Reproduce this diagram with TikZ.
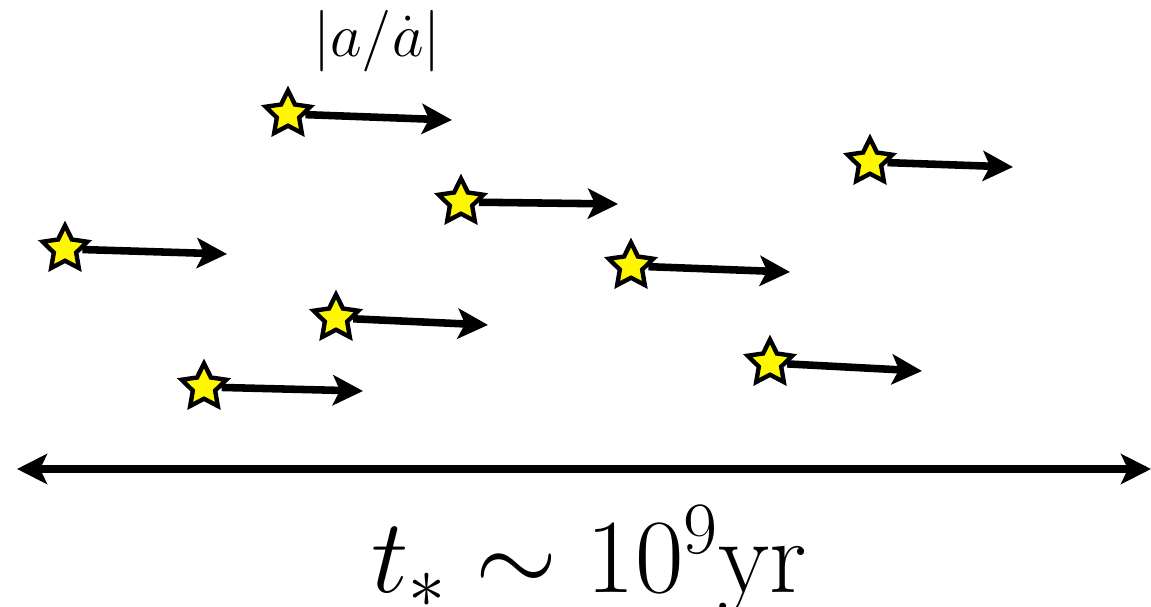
\RequirePackage{fix-cm}
\documentclass[tikz,border=0pt]{standalone}
\usetikzlibrary{arrows.meta, shapes.geometric}

\begin{document}
\begin{tikzpicture}[x=0.02cm, y=-0.02cm]

\definecolor{starfill}{HTML}{FFF700}

% ================================================================
%  one unit = one pixel of the 1151 x 607 frame, y running down.
%  each star sits where it is, its drift arrow runs off to the right
%  (a touch downhill); one long two-headed span closes the figure.
% ================================================================

\tikzset{
  starmark/.style={star, star points=5, star point ratio=2.0,
                   minimum size=0.94cm, inner sep=0pt,
                   draw=black, line width=2.5pt, fill=starfill},
  drift/.style={-{Stealth[length=0.6cm, width=0.6cm, inset=0.14cm]},
                line width=4.3pt},
  span/.style={{Stealth[length=0.6cm, width=0.6cm, inset=0.14cm]}-{Stealth[length=0.6cm, width=0.6cm, inset=0.14cm]},
               line width=4.5pt},
  bigmath/.style={anchor=base, inner sep=0pt},
}

\useasboundingbox (0,0) rectangle (1151,607);

% ---------------------------------------------------------------- stars
\foreach \n/\sx/\sy/\ex/\ey in {1/288/114/452/120, 2/461/202/618/204,
    3/870/162/1013/167, 4/65/249/227/254, 5/631/266/790/272,
    6/336/318/488/325, 7/770/363/922/371, 8/204/387/363/391} {
    \node[starmark] (s\n) at (\sx, \sy) {};
    \coordinate (e\n) at (\ex, \ey);
    \draw[drift] (s\n) -- (e\n);
}

% ---------------------------------------------------------------- labels
\node[bigmath, font=\fontsize{35}{40}\selectfont] (ratio) at (377, 57)
    {$|a/\dot{a}|$};

\coordinate (spanl) at (17, 469);
\coordinate (spanr) at (1151, 469);
\draw[span] (spanl) -- (spanr);

\node[bigmath, font=\fontsize{60}{70}\selectfont] (age) at (589, 592)
    {$t_* \sim 10^9\mathrm{yr}$};

\end{tikzpicture}
\end{document}
